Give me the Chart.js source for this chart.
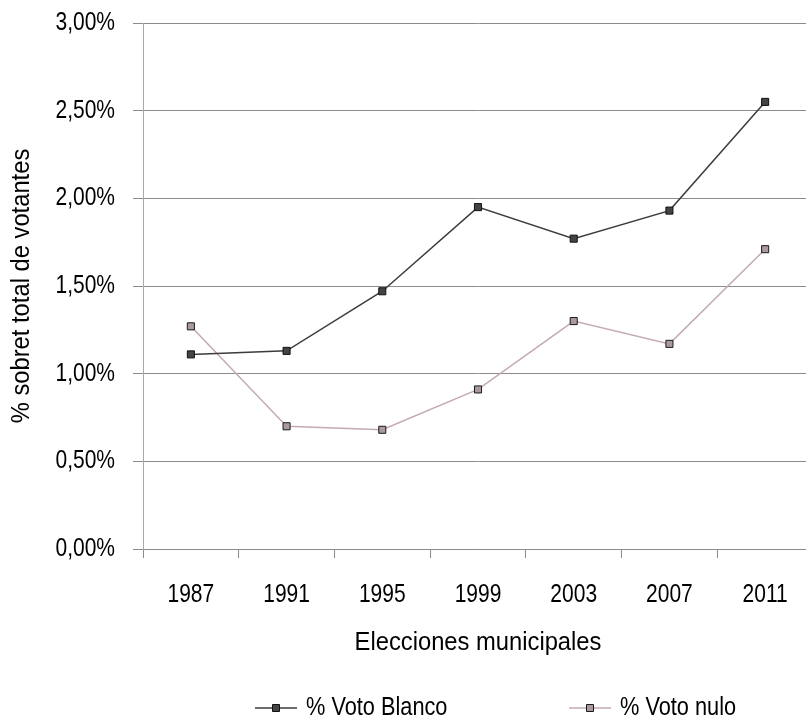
<!DOCTYPE html>
<html>
<head>
<meta charset="utf-8">
<script src="https://cdn.jsdelivr.net/npm/chart.js@4.4.1/dist/chart.umd.min.js"></script>
<style>
  html, body { margin: 0; padding: 0; background: #fff; overflow: hidden; }
  #wrap { width: 819px; height: 719px; }
</style>
</head>
<body>
<div id="wrap"><canvas id="c" width="819" height="719" style="width:819px;height:719px"></canvas></div>
<script>
const categories = ['1987', '1991', '1995', '1999', '2003', '2007', '2011'];
const votoBlanco = [1.11, 1.13, 1.47, 1.95, 1.77, 1.93, 2.55];
const votoNulo = [1.27, 0.70, 0.68, 0.91, 1.30, 1.17, 1.71];
const seriesNames = ['% Voto Blanco', '% Voto nulo'];
const yTitle = '% sobret total de votantes';
const xTitle = 'Elecciones municipales';

const FONT = "'Liberation Sans', Arial, sans-serif";
const GRID = '#8c8c8c';

const canvas = document.getElementById('c');
const ctx0 = canvas.getContext('2d');
const origFill = ctx0.fillText.bind(ctx0);
// condensed rendering of text (like Helvetica Condensed)
ctx0.fillText = function (text, x, y) {
  const s = (text === xTitle || text === yTitle) ? 0.95 : (seriesNames.includes(text) ? 0.87 : 0.84);
  this.save();
  this.translate(x, y);
  this.scale(s, 1);
  origFill(text, 0, 0);
  this.restore();
};

const legendPlugin = {
  id: 'customLegend',
  afterDraw(chart) {
    const ctx = chart.ctx;
    const items = [
      { x: 255, ds: chart.data.datasets[0] },
      { x: 569, ds: chart.data.datasets[1] }
    ];
    const y = 708;
    ctx.save();
    items.forEach(it => {
      ctx.strokeStyle = it.ds.borderColor;
      ctx.lineWidth = 1.5;
      ctx.beginPath();
      ctx.moveTo(it.x, y);
      ctx.lineTo(it.x + 42, y);
      ctx.stroke();
      ctx.fillStyle = it.ds.pointBackgroundColor;
      ctx.strokeStyle = it.ds.pointBorderColor;
      ctx.lineWidth = 1;
      ctx.beginPath();
      ctx.rect(it.x + 21 - 3.5, y - 3.5, 7, 7);
      ctx.fill();
      ctx.stroke();
      ctx.fillStyle = '#000';
      ctx.font = '25px ' + FONT;
      ctx.textBaseline = 'middle';
      ctx.textAlign = 'left';
      ctx.fillText(it.ds.label, it.x + 51, y);
    });
    ctx.restore();
  }
};

new Chart(canvas, {
  type: 'line',
  data: {
    labels: categories,
    datasets: [
      {
        label: seriesNames[0],
        data: votoBlanco,
        borderColor: '#3c3c3c',
        borderWidth: 1.5,
        pointStyle: 'rect',
        pointRadius: 5,
        pointBackgroundColor: '#444444',
        pointBorderColor: '#111111',
        pointBorderWidth: 1,
        tension: 0
      },
      {
        label: seriesNames[1],
        data: votoNulo,
        borderColor: '#c3aab4',
        borderWidth: 1.5,
        pointStyle: 'rect',
        pointRadius: 5,
        pointBackgroundColor: '#ab99a1',
        pointBorderColor: '#1a1a1a',
        pointBorderWidth: 1,
        tension: 0
      }
    ]
  },
  options: {
    responsive: false,
    devicePixelRatio: 1,
    animation: false,
    layout: { padding: { left: 0, top: 23, right: 0, bottom: 40 } },
    plugins: {
      legend: { display: false },
      tooltip: { enabled: false }
    },
    scales: {
      x: {
        offset: true,
        grid: { offset: true, drawOnChartArea: false, drawTicks: true, tickLength: 9, color: GRID, lineWidth: 1 },
        border: { display: true, color: GRID },
        ticks: { color: '#000', font: { family: FONT, size: 25 }, padding: 22, maxRotation: 0, autoSkip: false },
        title: { display: true, text: xTitle, color: '#000', font: { family: FONT, size: 25 }, padding: { top: 0, bottom: 21 } },
        afterFit(s) { s.height = 130; s.paddingLeft = 0; s.paddingRight = 0; }
      },
      y: {
        min: 0,
        max: 3,
        ticks: {
          stepSize: 0.5,
          color: '#000',
          font: { family: FONT, size: 25 },
          padding: 18,
          callback: v => v.toFixed(2).replace('.', ',') + '%'
        },
        grid: { color: GRID, lineWidth: 1, tickLength: 10 },
        border: { display: true, color: '#a8a8a8' },
        title: { display: true, text: yTitle, color: '#000', font: { family: FONT, size: 25 }, padding: { top: 7, bottom: 0 } },
        afterFit(s) { s.width = 143; s.paddingTop = 0; s.paddingBottom = 0; }
      }
    }
  },
  plugins: [legendPlugin]
});
</script>
</body>
</html>
